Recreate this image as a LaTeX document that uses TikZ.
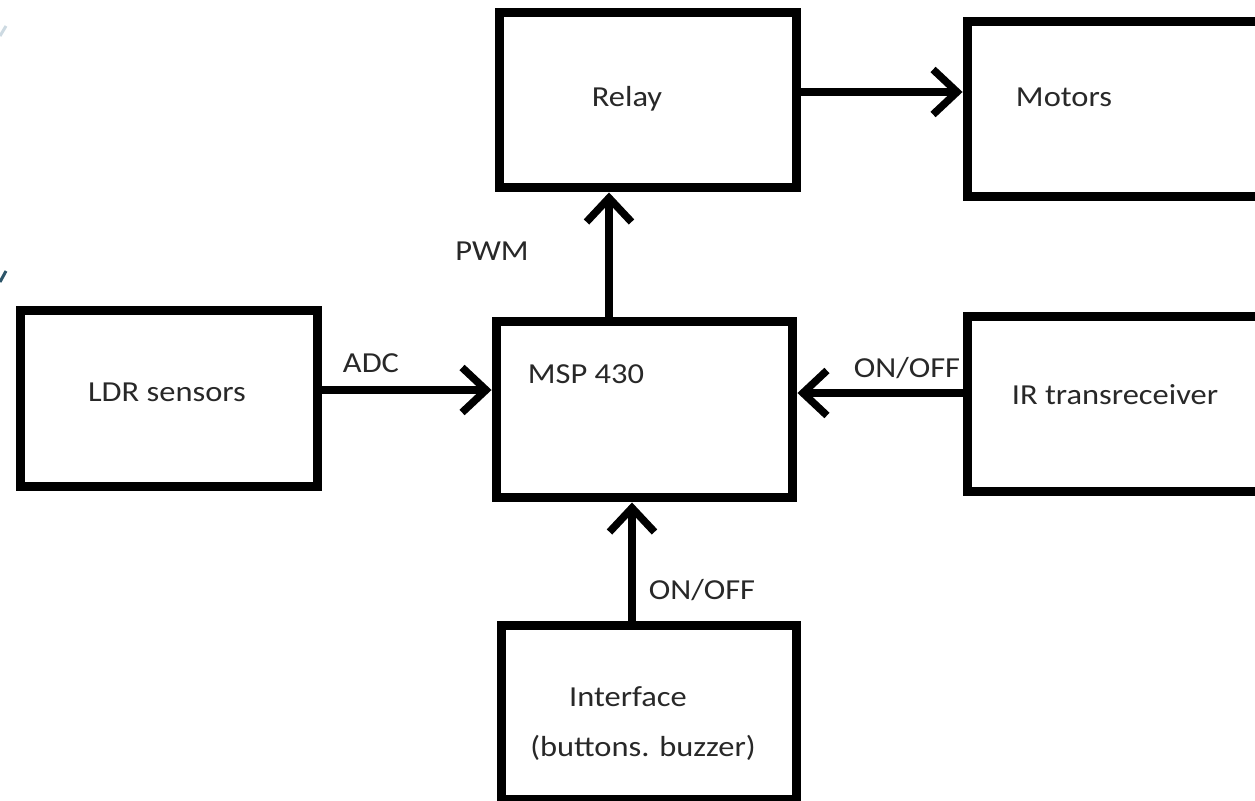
\documentclass[tikz,border=0pt]{standalone}
\usepackage{fontspec}
\setmainfont{Carlito}[FakeStretch=1.12]
\usepackage{tikz}
\usetikzlibrary{arrows.meta}
\definecolor{inkgray}{RGB}{40,40,40}
\definecolor{ghostblue}{RGB}{205,218,226}
\definecolor{slateblue}{RGB}{45,85,105}
\tikzset{
  blk/.style={draw, line width=0.18cm, minimum width=5.96cm, minimum height=3.52cm, inner sep=0pt},
  lbl/.style={text=inkgray, inner sep=0pt, font=\fontsize{16.5}{20}\selectfont},
  arr/.style={line width=0.15cm, -{Straight Barb[length=0.48cm, width=0.9cm]}}
}

\begin{document}
\begin{tikzpicture}[x=0.02cm, y=-0.02cm]
        \clip (0,0) rectangle (1255,801);
        \fill[white] (0,0) rectangle (1255,801);

        % slide edge marks
        \draw[ghostblue, line width=0.06cm] (0,36) -- (6,26);
        \draw[slateblue, line width=0.06cm] (0,282) -- (6,271);

        \node[blk] (relay) at (648,100) {};
        \node[blk, minimum width=6.2cm] (motors) at (1122,109) {};
        \node[blk, minimum height=3.54cm] (ldr) at (169,398.5) {};
        \node[blk, minimum width=5.94cm, minimum height=3.54cm] (msp) at (644.5,409.5) {};
        \node[blk, minimum width=6.2cm] (ir) at (1122,404) {};
        \node[blk, minimum width=5.92cm, minimum height=3.5cm] (iface) at (649,712.5) {};

        \node[lbl] (relaytxt) at (627,99) {Relay};
        \node[lbl] (motorstxt) at (1064,97) {Motors};
        \node[lbl] (ldrtxt) at (167,392) {LDR sensors};
        \node[lbl] (msptxt) at (586,374) {MSP 430};
        \node[lbl] (irtxt) at (1115,395) {IR transreceiver};
        \node[lbl] (ifacetxt) at (628,697) {Interface};
        \node[lbl] (ifacesub) at (643,748) {(buttons. buzzer)};

        \node[lbl] (pwm) at (492,251) {PWM};
        \node[lbl] (adc) at (371,363) {ADC};
        \node[lbl] (iron) at (907,368) {ON/OFF};
        \node[lbl] (ifaceon) at (702,590) {ON/OFF};

        \draw[arr] ([yshift=0.16cm]relay.east) -- ([yshift=0.16cm]relay.east -| motors.west);
        \draw[arr] ([xshift=-0.71cm]msp.north) -- ([xshift=-0.71cm]msp.north |- relay.south);
        \draw[arr] ([yshift=0.17cm]ldr.east) -- ([yshift=0.17cm]ldr.east -| msp.west);
        \draw[arr] ([yshift=0.22cm]ir.west) -- ([yshift=0.22cm]ir.west -| msp.east);
        \draw[arr] ([xshift=-0.34cm]iface.north) -- ([xshift=-0.34cm]iface.north |- msp.south);
    \end{tikzpicture}
\end{document}
